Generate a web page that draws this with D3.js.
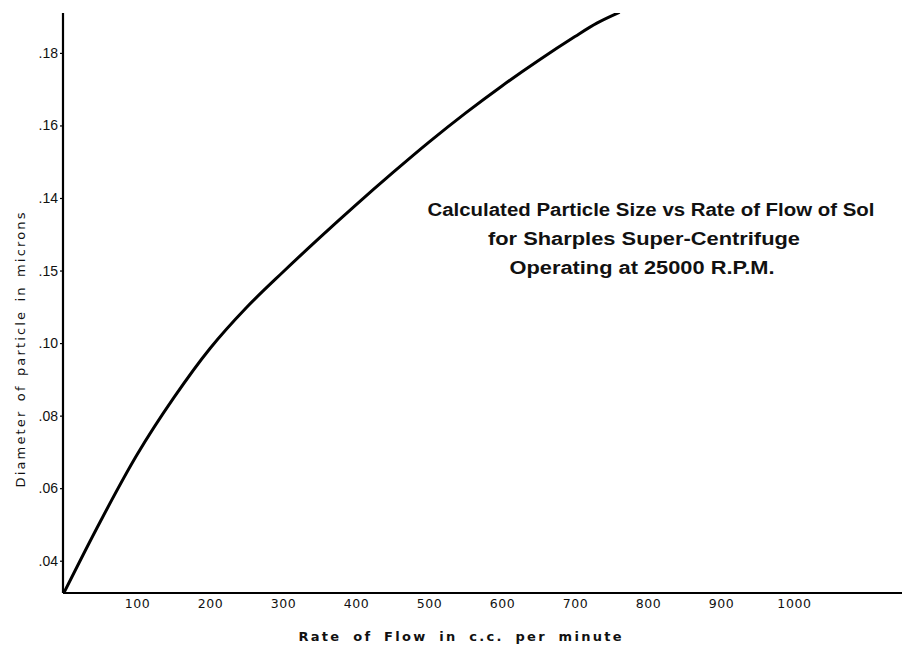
<!DOCTYPE html>
<html>
<head>
<meta charset="utf-8">
<script src="https://cdn.jsdelivr.net/npm/d3@7"></script>
<style>
  html, body { margin: 0; padding: 0; background: #fff; }
  svg { display: block; }
</style>
</head>
<body>
<div id="chart"></div>
<script>
// values
const flowRate = [0, 50, 100, 150, 200, 250, 300, 350, 400, 450, 500, 550, 600, 650, 700, 730, 760];
const diameter = [0.0312, 0.0509, 0.0692, 0.0848, 0.0985, 0.1098, 0.1196, 0.1290, 0.1381, 0.1469, 0.1554,
  0.1634, 0.1709, 0.1779, 0.1845, 0.1882, 0.1911];

const xTicks = [100, 200, 300, 400, 500, 600, 700, 800, 900, 1000];
const yTicks = [0.04, 0.06, 0.08, 0.10, 0.12, 0.14, 0.16, 0.18];
// lettering on the original sheet (".15" is written where .12 belongs)
const yTickLabels = [".04", ".06", ".08", ".10", ".15", ".14", ".16", ".18"];

const titleLines = [
  "Calculated Particle Size vs Rate of Flow of Sol",
  "for  Sharples  Super-Centrifuge",
  "Operating at 25000 R.P.M."
];

const width = 902;
const height = 645;
const margin = { top: 13, right: 0, bottom: 52, left: 63 };

const svg = d3.select("#chart")
  .append("svg")
  .attr("width", width)
  .attr("height", height);

const x = d3.scaleLinear()
  .domain([0, 1148])
  .range([margin.left + 1, width - margin.right]);

const y = d3.scaleLinear()
  .domain([0.0311, 0.191])
  .range([height - margin.bottom, margin.top]);

svg.append("defs").append("clipPath")
  .attr("id", "plotClip")
  .append("rect")
  .attr("x", margin.left)
  .attr("y", margin.top)
  .attr("width", width - margin.left - margin.right)
  .attr("height", height - margin.top - margin.bottom);

///////////////////////////////////////
// axes
///////////////////////////////////////
const xAxis = svg.append("g")
  .attr("class", "x-axis")
  .attr("transform", "translate(0," + y.range()[0] + ")")
  .call(d3.axisBottom(x)
    .tickValues(xTicks)
    .tickSize(0)
    .tickPadding(6)
    .tickFormat(d3.format("d")));
xAxis.select(".domain")
  .attr("stroke", "#000")
  .attr("stroke-width", 2.2)
  .attr("d", "M" + margin.left + ",0H" + width);
xAxis.selectAll("text")
  .attr("font-family", "DejaVu Sans")
  .attr("font-size", 12.5)
  .attr("letter-spacing", 0.6)
  .attr("fill", "#111");

const yAxis = svg.append("g")
  .attr("class", "y-axis")
  .attr("transform", "translate(" + margin.left + ",0)")
  .call(d3.axisLeft(y)
    .tickValues(yTicks)
    .tickSize(3)
    .tickPadding(2)
    .tickFormat(function (d, i) { return yTickLabels[i]; }));
yAxis.select(".domain")
  .attr("stroke", "#000")
  .attr("stroke-width", 2.2)
  .attr("d", "M0," + margin.top + "V" + y.range()[0]);
yAxis.selectAll(".tick line")
  .attr("stroke", "#000")
  .attr("stroke-width", 1.2);
yAxis.selectAll("text")
  .attr("font-family", "Liberation Sans")
  .attr("font-size", 14)
  .attr("fill", "#111");

// axis titles
svg.append("text")
  .attr("x", 460)
  .attr("y", 641)
  .attr("text-anchor", "middle")
  .attr("font-family", "DejaVu Sans")
  .attr("font-size", 13)
  .attr("font-weight", "bold")
  .attr("word-spacing", 5)
  .attr("textLength", 323)
  .attr("lengthAdjust", "spacing")
  .attr("fill", "#111")
  .text("Rate of Flow in c.c. per minute");

svg.append("text")
  .attr("transform", "translate(25,350) rotate(-90)")
  .attr("text-anchor", "middle")
  .attr("font-family", "DejaVu Sans")
  .attr("font-size", 13)
  .attr("word-spacing", 2)
  .attr("textLength", 275)
  .attr("lengthAdjust", "spacing")
  .attr("fill", "#111")
  .text("Diameter of particle in microns");

///////////////////////////////////////
// curve
///////////////////////////////////////
const points = flowRate.map(function (d, i) {
  return { q: d, dia: diameter[i] };
});

const line = d3.line()
  .x(function (d) { return x(d.q); })
  .y(function (d) { return y(d.dia); })
  .curve(d3.curveCatmullRom.alpha(0.5));

svg.append("path")
  .datum(points)
  .attr("clip-path", "url(#plotClip)")
  .attr("fill", "none")
  .attr("stroke", "#000")
  .attr("stroke-width", 3)
  .attr("stroke-linecap", "round")
  .attr("d", line);

///////////////////////////////////////
// title block
///////////////////////////////////////
const titleWidths = [447, 312, 265];
const titleCenter = [651, 644, 642];
const title = svg.append("g").attr("class", "title");
titleLines.forEach(function (t, i) {
  title.append("text")
    .attr("x", titleCenter[i])
    .attr("y", 216 + i * 29)
    .attr("text-anchor", "middle")
    .attr("font-family", "Liberation Sans")
    .attr("font-size", 18)
    .attr("font-weight", "bold")
    .attr("fill", "#111")
    .attr("textLength", titleWidths[i])
    .attr("lengthAdjust", "spacingAndGlyphs")
    .text(t);
});
</script>
</body>
</html>
